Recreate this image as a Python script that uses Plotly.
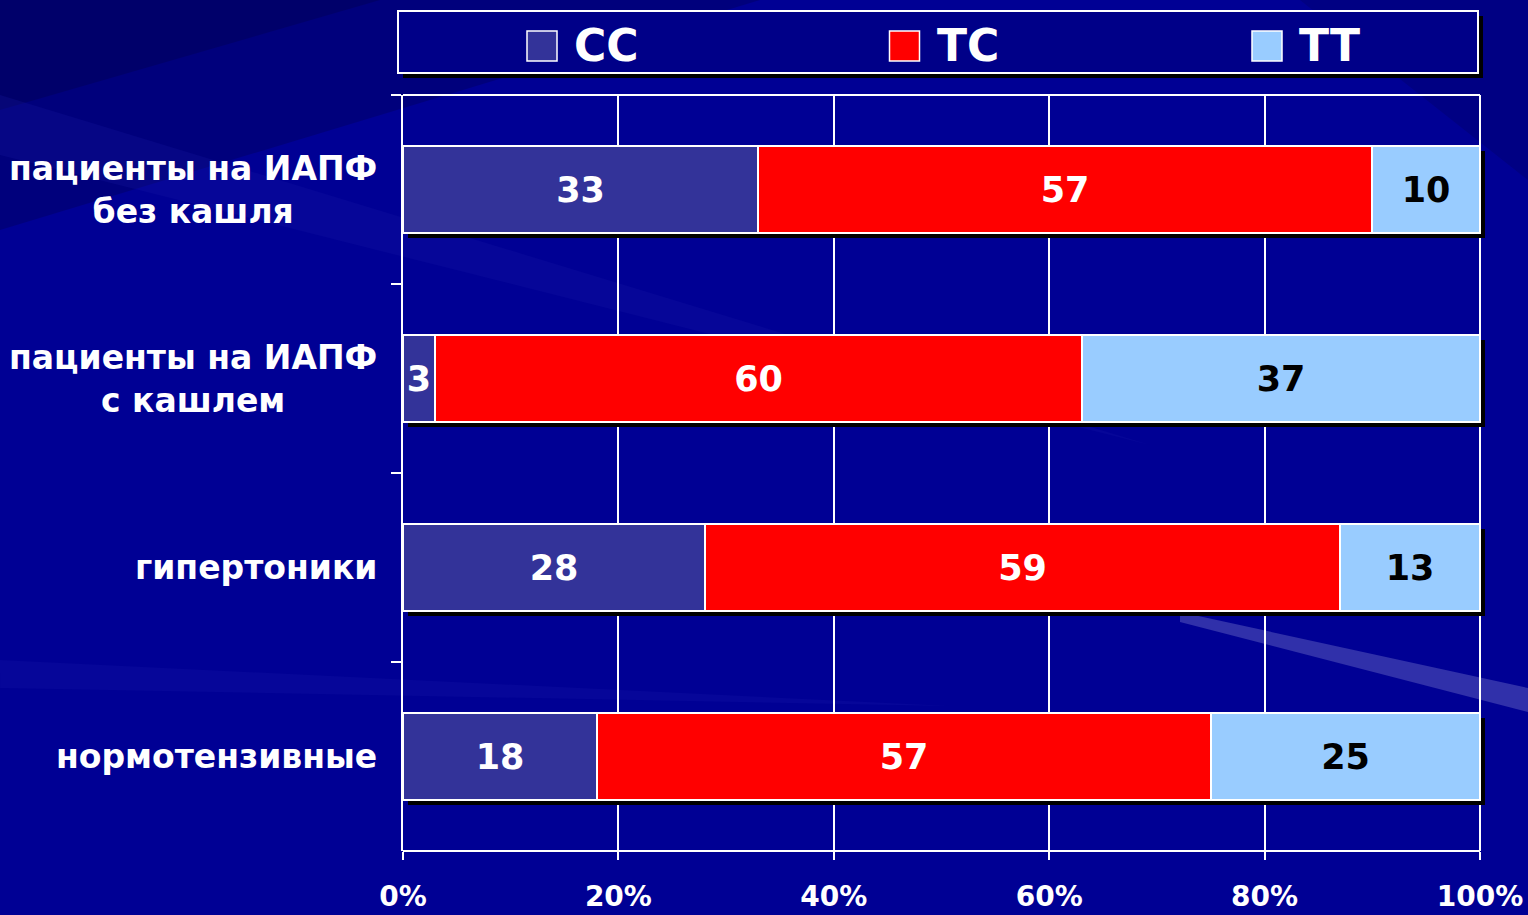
import plotly.graph_objects as go

# ---------------- data ----------------
categories = ["пациенты на ИАПФ<br>без кашля",
              "пациенты на ИАПФ<br>с кашлем",
              "гипертоники",
              "нормотензивные"]
series_names = ["CC", "TC", "TT"]
cc_values = [33, 3, 28, 18]
tc_values = [57, 60, 59, 57]
tt_values = [10, 37, 13, 25]
x_tick_values = [0, 20, 40, 60, 80, 100]
x_tick_labels = ["0%", "20%", "40%", "60%", "80%", "100%"]

# ---------------- style ----------------
colors = ["#333399", "#FF0000", "#99CCFF"]
text_colors = ["white", "white", "black"]
BG = "#000094"
W, H = 1528, 915
X0_PX, X100_PX = 403, 1480          # pixel position of 0% and 100%
L, R, T, B = 403, 42, 95, 64        # right margin leaves room for bar shadow
PW, PH = W - L - R, H - T - B
X_MAX = 100 * PW / (X100_PX - X0_PX)
BAR_W = 0.46
FONT = "DejaVu Sans"


def px(x):
    return (x - L) / PW


def py(y):
    return (H - B - y) / PH


series = [cc_values, tc_values, tt_values]
totals = [sum(v) for v in zip(*series)]

fig = go.Figure()

# shadow behind each stacked bar (offset a few pixels right/down)
fig.add_trace(go.Bar(
    y=categories, x=totals, base=[0.45] * len(totals), orientation="h",
    width=BAR_W, offset=-BAR_W / 2 + 5 / (PH / len(categories)),
    marker=dict(color="black", line=dict(width=0)),
    hoverinfo="skip", showlegend=False))

bases = [0] * len(categories)
for name, vals, col, tcol in zip(series_names, series, colors, text_colors):
    fig.add_trace(go.Bar(
        name=name, y=categories, x=vals, base=list(bases), orientation="h",
        width=BAR_W,
        marker=dict(color=col, line=dict(color="white", width=2)),
        text=[str(v) for v in vals], textposition="inside",
        insidetextanchor="middle", constraintext="none",
        textfont=dict(family=FONT, size=35, color=tcol, weight="bold"),
        showlegend=False))
    bases = [b + v for b, v in zip(bases, vals)]

shapes = []
# background decoration streaks
def poly(points, color, opacity):
    d = "M " + " L ".join(f"{px(x):.5f},{py(y):.5f}" for x, y in points) + " Z"
    return dict(type="path", xref="paper", yref="paper", path=d,
                fillcolor=color, opacity=opacity, line=dict(width=0), layer="below")

shapes.append(poly([(0, 0), (760, 0), (0, 230)], "#000060", 0.45))
shapes.append(poly([(0, 0), (380, 0), (0, 110)], "#000050", 0.4))
shapes.append(poly([(0, 95), (1150, 445), (0, 155)], "#1a1aa8", 0.22))
shapes.append(poly([(1180, 612), (1528, 688), (1528, 712), (1180, 622)], "#6060c0", 0.5))
shapes.append(poly([(0, 660), (950, 706), (0, 688)], "#1616a8", 0.25))
shapes.append(poly([(1300, 0), (1528, 0), (1528, 180)], "#00006a", 0.4))

# legend (drawn manually to match large square keys)
box = (398, 11, 1478, 73)
shapes.append(dict(type="rect", xref="paper", yref="paper",
                   x0=px(box[0] + 5), x1=px(box[2] + 5), y0=py(box[3] + 5), y1=py(box[1] + 5),
                   fillcolor="black", line=dict(width=0), layer="above"))
shapes.append(dict(type="rect", xref="paper", yref="paper",
                   x0=px(box[0]), x1=px(box[2]), y0=py(box[3]), y1=py(box[1]),
                   fillcolor="#000088", line=dict(color="white", width=2), layer="above"))
annotations = []
for i, (name, col) in enumerate(zip(series_names, colors)):
    sx = 527 + i * 362.5
    shapes.append(dict(type="rect", xref="paper", yref="paper",
                       x0=px(sx), x1=px(sx + 30), y0=py(61), y1=py(31),
                       fillcolor=col, line=dict(color="white", width=1.5), layer="above"))
    annotations.append(dict(xref="paper", yref="paper", x=px(sx + 45), y=py(45),
                            text=name, showarrow=False, xanchor="left", yanchor="middle",
                            font=dict(family=FONT, size=44, color="white", weight="bold")))

# top border line of the plot area (0% .. 100%)
shapes.append(dict(type="line", xref="x", yref="paper", x0=0, x1=100, y0=1, y1=1,
                   line=dict(color="white", width=2), layer="below"))

# category labels (centered lines, right aligned block)
for cat in categories:
    annotations.append(dict(xref="paper", yref="y", x=px(379), y=cat, text=cat,
                            showarrow=False, xanchor="right", yanchor="middle", align="center",
                            font=dict(family=FONT, size=33, color="white", weight="bold")))

fig.update_layout(
    width=W, height=H,
    margin=dict(l=L, r=R, t=T, b=B, pad=0),
    paper_bgcolor=BG, plot_bgcolor="rgba(0,0,0,0)",
    barmode="overlay", bargap=0,
    showlegend=False,
    shapes=shapes, annotations=annotations,
    xaxis=dict(range=[0, X_MAX], tickvals=x_tick_values, ticktext=x_tick_labels,
               showgrid=True, gridcolor="white", gridwidth=1.5,
               showline=False,
               ticks="outside", ticklen=8, tickcolor="white", tickwidth=1.5,
               ticklabelstandoff=12, zeroline=False, automargin=False,
               tickfont=dict(family=FONT, size=28, color="white", weight="bold"),
               fixedrange=True),
    yaxis=dict(categoryorder="array", categoryarray=categories, autorange="reversed",
               showticklabels=False, showgrid=False, automargin=False,
               showline=True, linecolor="white", linewidth=2,
               ticks="outside", ticklen=10, tickcolor="white", tickwidth=1.5,
               tickson="boundaries", fixedrange=True),
)
# bottom axis line drawn from 0% to 100% only
fig.add_shape(type="line", xref="x", yref="paper", x0=0, x1=100, y0=0, y1=0,
              line=dict(color="white", width=2), layer="below")

fig.write_html("out.html")
